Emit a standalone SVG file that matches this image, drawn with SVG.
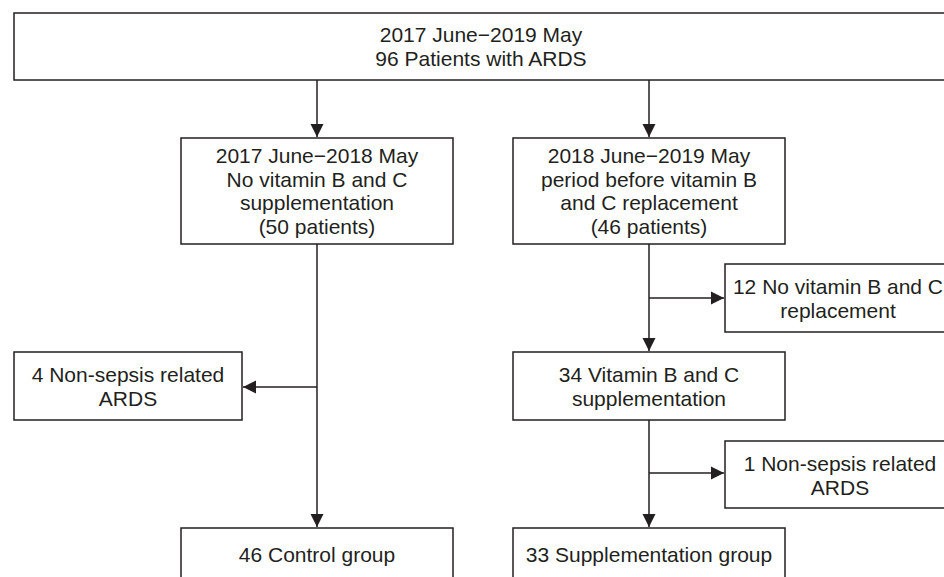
<svg xmlns="http://www.w3.org/2000/svg" width="944" height="577" viewBox="0 0 944 577">
<style>
.box{fill:#fff;stroke:#231f20;stroke-width:1.5}
.t{font-family:"Liberation Sans",Arial,sans-serif;font-size:21px;fill:#231f20;text-anchor:middle}
.c{fill:none;stroke:#231f20;stroke-width:1.5}
</style>
<defs>
<marker id="ah" markerUnits="userSpaceOnUse" markerWidth="14" markerHeight="14" viewBox="0 0 14 14" refX="13" refY="7" orient="auto">
<path d="M0,0.5 L13,7 L0,13.5 Z" fill="#231f20"/>
</marker>
</defs>
<rect width="944" height="577" fill="#fff"/>
<g id="connectors">
<line class="c" x1="317" y1="80" x2="317" y2="137" marker-end="url(#ah)"/>
<line class="c" x1="649" y1="80" x2="649" y2="137" marker-end="url(#ah)"/>
<line class="c" x1="317" y1="244" x2="317" y2="527" marker-end="url(#ah)"/>
<line class="c" x1="317" y1="387" x2="243" y2="387" marker-end="url(#ah)"/>
<line class="c" x1="649" y1="244" x2="649" y2="351" marker-end="url(#ah)"/>
<line class="c" x1="649" y1="298" x2="724" y2="298" marker-end="url(#ah)"/>
<line class="c" x1="649" y1="420" x2="649" y2="527" marker-end="url(#ah)"/>
<line class="c" x1="649" y1="473" x2="724" y2="473" marker-end="url(#ah)"/>
</g>
<g id="n-top">
<rect class="box" x="14" y="13" width="940" height="67"/>
<text class="t" x="481" y="42">2017 June−2019 May</text>
<text class="t" x="481" y="66">96 Patients with ARDS</text>
</g>
<g id="n-control-period">
<rect class="box" x="181" y="138" width="272" height="106"/>
<text class="t" x="317" y="163">2017 June−2018 May</text>
<text class="t" x="317" y="186.5">No vitamin B and C</text>
<text class="t" x="317" y="210">supplementation</text>
<text class="t" x="317" y="233.5">(50 patients)</text>
</g>
<g id="n-supp-period">
<rect class="box" x="513" y="138" width="272" height="106"/>
<text class="t" x="649" y="163">2018 June−2019 May</text>
<text class="t" x="649" y="186.5">period before vitamin B</text>
<text class="t" x="649" y="210">and C replacement</text>
<text class="t" x="649" y="233.5">(46 patients)</text>
</g>
<g id="n-no-replacement">
<rect class="box" x="725" y="264" width="230" height="68"/>
<text class="t" x="838" y="294">12 No vitamin B and C</text>
<text class="t" x="838" y="317.5">replacement</text>
</g>
<g id="n-nonsepsis-left">
<rect class="box" x="14" y="352" width="228" height="68"/>
<text class="t" x="128" y="382">4 Non-sepsis related</text>
<text class="t" x="128" y="405.5">ARDS</text>
</g>
<g id="n-supplementation">
<rect class="box" x="513" y="352" width="272" height="68"/>
<text class="t" x="649" y="382">34 Vitamin B and C</text>
<text class="t" x="649" y="405.5">supplementation</text>
</g>
<g id="n-nonsepsis-right">
<rect class="box" x="725" y="441" width="230" height="67"/>
<text class="t" x="840" y="471">1 Non-sepsis related</text>
<text class="t" x="840" y="494.5">ARDS</text>
</g>
<g id="n-control-group">
<rect class="box" x="181" y="528" width="272" height="70"/>
<text class="t" x="317" y="561.5">46 Control group</text>
</g>
<g id="n-supp-group">
<rect class="box" x="513" y="528" width="272" height="70"/>
<text class="t" x="649" y="561.5">33 Supplementation group</text>
</g>
</svg>
